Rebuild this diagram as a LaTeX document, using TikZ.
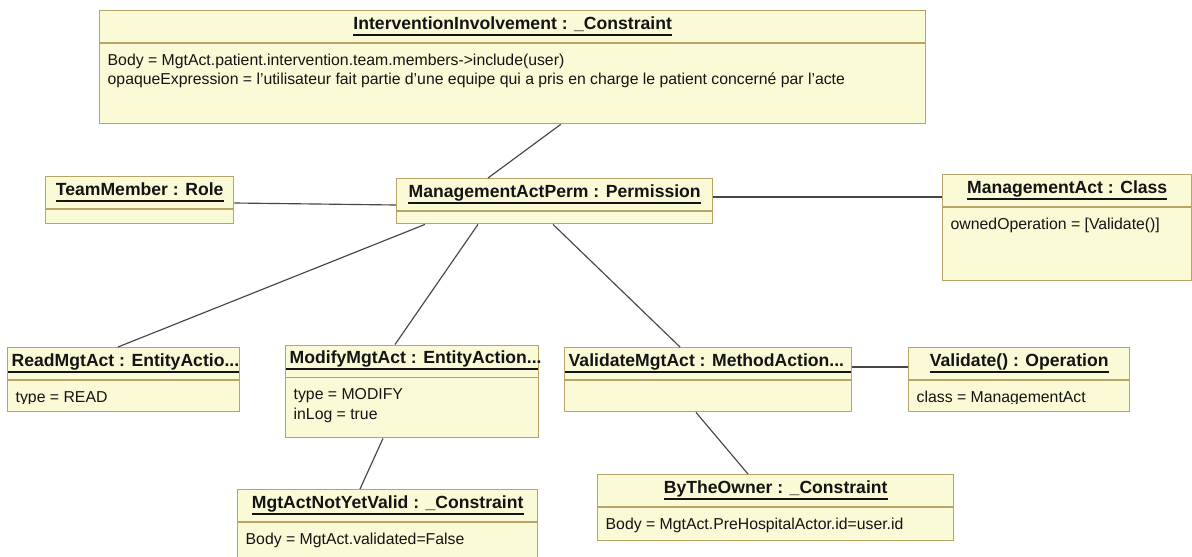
\documentclass[tikz,border=0pt]{standalone}
\usepackage{fontspec}
\setmainfont{Liberation Sans}
\usetikzlibrary{calc}

\definecolor{objfill}{RGB}{251,250,215}
\definecolor{objedge}{RGB}{184,164,104}
\definecolor{ink}{RGB}{20,20,20}
\definecolor{wirecol}{RGB}{70,70,70}

\tikzset{
  objbox/.style={draw=objedge, fill=objfill, line width=1.4pt, inner sep=0pt,
                 anchor=north west, rectangle},
  sepline/.style={draw=objedge, line width=1.4pt},
  titletxt/.style={font=\fontsize{17.6}{20}\selectfont\bfseries, text=ink,
                   inner sep=0pt, anchor=base},
  bodytxt/.style={font=\fontsize{15.8}{19.5}\selectfont, text=ink,
                  inner sep=0pt, anchor=base west},
  uline/.style={draw=ink, line width=2pt},
  wire/.style={draw=wirecol, line width=1.15pt},
}

% object box: name, x1, y1, x2, y2 (separator 33 below the top edge)
\newcommand\umlobject[5]{%
  \node[objbox, minimum width={#4-#2}, minimum height={#5-#3}] (#1) at (#2,#3) {};
  \draw[sepline] ([yshift=-33pt]#1.north west) -- ([yshift=-33pt]#1.north east);
}
% centred, underlined title
\newcommand\umltitle[2]{%
  \node[titletxt] (#1T) at ($(#1.north)+(0,19)$) {#2};
  \draw[uline] ([yshift=-5.5pt]#1T.base west) -- ([yshift=-5.5pt]#1T.base east);
}
% truncated title, left aligned, rule across the whole box
\newcommand\umlcuttitle[2]{%
  \node[titletxt, anchor=base west] (#1T) at ($(#1.north west)+(4.5,19)$) {#2};
  \draw[uline] ($(#1.north west)+(1,24.5)$) -- ($(#1.north east)+(-1,24.5)$);
}

\begin{document}
\begin{tikzpicture}[x=1pt,y=-1pt]
\useasboundingbox (0,0) rectangle (1192,557);
\clip (0,0) rectangle (1192,557);
\fill[white] (0,0) rectangle (1192,557);

% object boxes
\umlobject{ii}{99}{10}{925}{123}
\umlobject{tm}{45}{176}{233}{223}
\umlobject{mp}{396}{178}{712}{223}
\umlobject{ma}{942}{174}{1191}{280}
\umlobject{rd}{7}{347}{239}{411}
\umlobject{md}{285}{344.5}{538}{437}
\umlobject{vd}{564}{347}{851}{411}
\umlobject{vo}{908}{347}{1129}{411}
\umlobject{nv}{237}{489}{537}{570}
\umlobject{bo}{597}{474}{953}{540}

% links
\draw[wire] ([xshift=48pt]ii.south) -- ([xshift=92pt]mp.north west);
\draw[wire] ([yshift=-27pt]tm.north east) -- ([yshift=-27pt]mp.north west);
\draw[wire] ([yshift=-19pt]mp.north east) -- ([yshift=-23pt]ma.north west);
\draw[wire] ([xshift=29pt]mp.south west) -- ([xshift=111pt]rd.north west);
\draw[wire] ([xshift=82pt]mp.south west) -- ([xshift=110pt]md.north west);
\draw[wire] ([xshift=157pt]mp.south west) -- ([xshift=116pt]vd.north west);
\draw[wire] ([xshift=98pt]md.south west) -- ([xshift=123pt]nv.north west);
\draw[wire] ([yshift=-20pt]vd.north east) -- ([yshift=-20pt]vo.north west);
\draw[wire] ([xshift=132pt]vd.south west) -- ([xshift=151pt]bo.north west);

% titles
\umltitle{ii}{InterventionInvolvement : \_Constraint}
\umltitle{tm}{TeamMember : Role}
\umltitle{mp}{ManagementActPerm : Permission}
\umltitle{ma}{ManagementAct : Class}
\umlcuttitle{rd}{ReadMgtAct : EntityActio...}
\umlcuttitle{md}{ModifyMgtAct : EntityAction...}
\umlcuttitle{vd}{ValidateMgtAct : MethodAction...}
\umltitle{vo}{Validate() : Operation}
\umltitle{nv}{MgtActNotYetValid : \_Constraint}
\umltitle{bo}{ByTheOwner : \_Constraint}

% attribute compartments
\node[bodytxt] (iiA) at ($(ii.north west)+(8.5,55)$) {Body = MgtAct.patient.intervention.team.members->include(user)};
\node[bodytxt] (iiB) at ($(ii.north west)+(8.5,74.5)$) {opaqueExpression = l'utilisateur fait partie d'une equipe qui a pris en charge le patient concerné par l'acte};
\node[bodytxt] (maA) at ($(ma.north west)+(8.5,55)$) {ownedOperation = [Validate()]};
\begin{scope}
  \clip ($(rd.north west)+(0,0)$) rectangle ($(rd.north east)+(0,56.5)$);
  \node[bodytxt] (rdA) at ($(rd.north west)+(8.5,55)$) {type = READ};
\end{scope}
\node[bodytxt] (mdA) at ($(md.north west)+(8.5,55)$) {type = MODIFY};
\node[bodytxt] (mdB) at ($(md.north west)+(8.5,74.5)$) {inLog = true};
\begin{scope}
  \clip ($(vo.north west)+(0,0)$) rectangle ($(vo.north east)+(0,56.5)$);
  \node[bodytxt] (voA) at ($(vo.north west)+(8.5,55)$) {class = ManagementAct};
\end{scope}
\node[bodytxt] (nvA) at ($(nv.north west)+(8.5,55)$) {Body = MgtAct.validated=False};
\node[bodytxt] (boA) at ($(bo.north west)+(8.5,55)$) {Body = MgtAct.PreHospitalActor.id=user.id};
\end{tikzpicture}
\end{document}
